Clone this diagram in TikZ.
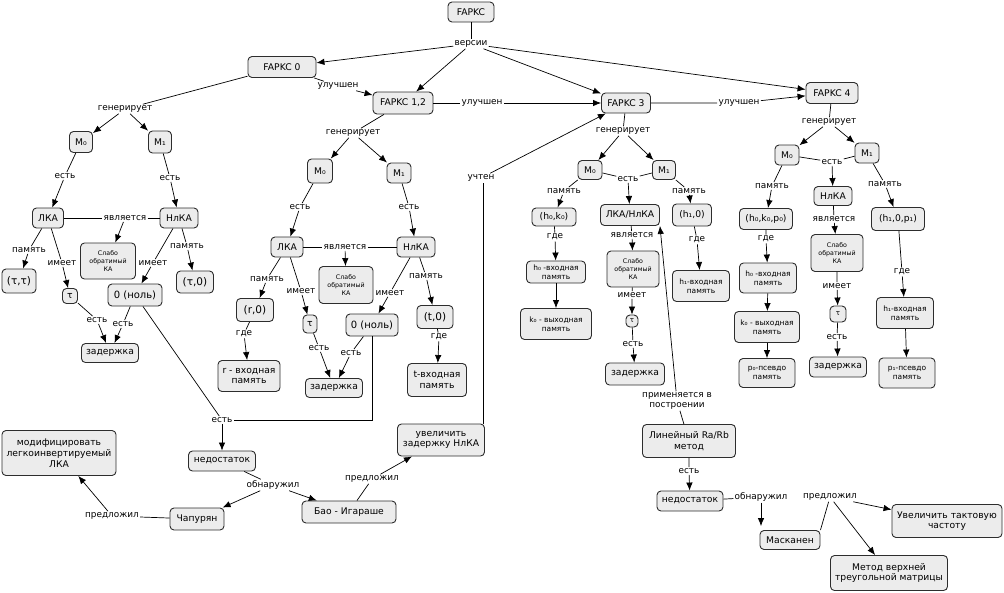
\documentclass[tikz,border=0pt]{standalone}
\usepackage{fontspec}
\setmainfont{DejaVu Sans}
\usetikzlibrary{arrows.meta}
\definecolor{boxgray}{RGB}{236,236,236}
\definecolor{boxline}{RGB}{45,45,45}

\begin{document}
\begin{tikzpicture}[x=1pt,y=-1pt,
  >={Latex[length=8pt,width=6.5pt]},
  line width=0.7pt,
  box/.style={draw=boxline,fill=boxgray,rounded corners=4pt,line width=0.9pt,
    align=center,inner sep=1pt,font=\fontsize{9.2}{10.7}\selectfont},
  tuplebox/.style={box,font=\fontsize{10.5}{12}\selectfont},
  midbox/.style={box,font=\fontsize{7.5}{9.5}\selectfont},
  tinybox/.style={box,font=\fontsize{6.3}{8}\selectfont},
  wh/.style 2 args={minimum width=#1pt,minimum height=#2pt},
  lbl/.style={inner sep=1pt,align=center,font=\fontsize{8.9}{10}\selectfont}]
  \useasboundingbox (0,0) rectangle (1004,592);

  % versions
  \node[box,wh={46}{20}] (f) at (471,12) {FAPKC};
  \node[box,wh={68}{21}] (f0) at (282,67) {FAPKC 0};
  \node[box,wh={60}{22}] (f12) at (403,103) {FAPKC 1,2};
  \node[box,wh={49}{20}] (f3) at (626,103) {FAPKC 3};
  \node[box,wh={52}{21}] (f4) at (832,93) {FAPKC 4};
  \node[lbl] (versii) at (471,44) {версии};
  \node[lbl] (ul1) at (338,86) {улучшен};
  \node[lbl] (ul2) at (482,103) {улучшен};
  \node[lbl] (ul3) at (739,103) {улучшен};
  \draw (f) -- (versii);
  \draw[->] (versii) -- (f0);
  \draw[->] (versii) -- (f12);
  \draw[->] (versii) -- (f3);
  \draw[->] (versii) -- (f4);
  \draw[->] (f0) -- (ul1) -- (f12);
  \draw[->] (f12) -- (ul2) -- (f3);
  \draw[->] (f3) -- (ul3) -- (f4);

  % FAPKC 0
  \node[lbl] (genA) at (125,109) {генерирует};
  \node[box,wh={23}{21}] (aM0) at (81,142) {M₀};
  \node[box,wh={23}{22}] (aM1) at (160,142) {M₁};
  \node[lbl] (aest0) at (65,176) {есть};
  \node[lbl] (aest1) at (170,178) {есть};
  \node[box,wh={31}{20}] (aL) at (48,218) {ЛКА};
  \node[box,wh={38}{20}] (aN) at (179,218) {НлКА};
  \node[lbl] (ajav) at (125,218) {является};
  \node[tinybox,wh={55}{36}] (aS) at (108,261) {Слабо\\обратимый\\КА};
  \node[lbl] (apam0) at (29,250) {память};
  \node[lbl] (aim0) at (62,263) {имеет};
  \node[lbl] (apam1) at (187,246) {память};
  \node[lbl] (aim1) at (153,263) {имеет};
  \node[tuplebox,wh={34}{24}] (aTT) at (19,281) {(τ,τ)};
  \node[box,wh={15}{15}] (aTau) at (70,296) {τ};
  \node[tuplebox,wh={37}{22}] (aT0) at (195,282) {(τ,0)};
  \node[box,wh={54}{22},font=\fontsize{10}{12}\selectfont] (aZero) at (135,295) {0 (ноль)};
  \node[lbl] (aest2) at (97,320) {есть};
  \node[lbl] (aest3) at (123,324) {есть};
  \node[box,wh={57}{19}] (aZad) at (110,353) {задержка};
  \draw[->] (f0) -- (genA) -- (aM0);
  \draw[->] (genA) -- (aM1);
  \draw[->] (aM0) -- (aest0) -- (aL);
  \draw[->] (aM1) -- (aest1) -- (aN);
  \draw (aL) -- (ajav) -- (aN);
  \draw[->] (ajav) -- (aS);
  \draw[->] (aL) -- (apam0) -- (aTT);
  \draw[->] (aL) -- (aim0) -- (aTau);
  \draw[->] (aN) -- (apam1) -- (aT0);
  \draw[->] (aN) -- (aim1) -- (aZero);
  \draw[->] (aTau) -- (aest2) -- (aZad);
  \draw[->] (aZero) -- (aest3) -- (aZad);

  % FAPKC 1,2
  \node[lbl] (genB) at (353,133) {генерирует};
  \node[box,wh={25}{24}] (bM0) at (320,171) {M₀};
  \node[box,wh={24}{20}] (bM1) at (399,173) {M₁};
  \node[lbl] (best0) at (300,207) {есть};
  \node[lbl] (best1) at (409,207) {есть};
  \node[box,wh={32}{20}] (bL) at (287,247) {ЛКА};
  \node[box,wh={38}{20}] (bN) at (416,247) {НлКА};
  \node[lbl] (bjav) at (345,247) {является};
  \node[tinybox,wh={54}{37}] (bS) at (346,285) {Слабо\\обратимый\\КА};
  \node[lbl] (bpam0) at (267,279) {память};
  \node[lbl] (bim0) at (301,291) {имеет};
  \node[lbl] (bim1) at (390,293) {имеет};
  \node[lbl] (bpam1) at (426,276) {память};
  \node[tuplebox,wh={37}{23}] (bR0) at (255,310) {(r,0)};
  \node[lbl] (bgde0) at (244,334) {где};
  \node[box,wh={62}{31}] (bRin) at (249,376) {r - входная\\память};
  \node[box,wh={14}{18}] (bTau) at (310,324) {τ};
  \node[lbl] (best2) at (319,348) {есть};
  \node[box,wh={52}{22},font=\fontsize{10}{12}\selectfont] (bZero) at (372,325) {0 (ноль)};
  \node[lbl] (best3) at (351,353) {есть};
  \node[box,wh={57}{19}] (bZad) at (334,388) {задержка};
  \node[tuplebox,wh={36}{23}] (bT0) at (435,317) {(t,0)};
  \node[lbl] (bgde1) at (439,337) {где};
  \node[box,wh={59}{33}] (bTin) at (437,380) {t-входная\\память};
  \draw[->] (f12) -- (genB) -- (bM0);
  \draw[->] (genB) -- (bM1);
  \draw[->] (bM0) -- (best0) -- (bL);
  \draw[->] (bM1) -- (best1) -- (bN);
  \draw (bL) -- (bjav) -- (bN);
  \draw[->] (bjav) -- (bS);
  \draw[->] (bL) -- (bpam0) -- (bR0);
  \draw[->] (bR0) -- (bgde0) -- (bRin);
  \draw[->] (bL) -- (bim0) -- (bTau);
  \draw[->] (bTau) -- (best2) -- (bZad);
  \draw[->] (bN) -- (bim1) -- (bZero);
  \draw[->] (bZero) -- (best3) -- (bZad);
  \draw[->] (bN) -- (bpam1) -- (bT0);
  \draw[->] (bT0) -- (bgde1) -- (bTin);

  % FAPKC 3
  \node[lbl] (genC) at (623,131) {генерирует};
  \node[box,wh={24}{19}] (cM0) at (590,170) {M₀};
  \node[box,wh={23}{19}] (cM1) at (664,170) {M₁};
  \node[lbl] (cest) at (628,179) {есть};
  \node[box,wh={59}{21}] (cLN) at (630,215) {ЛКА/НлКА};
  \node[lbl] (cpam0) at (564,191) {память};
  \node[box,wh={44}{18}] (cHK) at (554,217) {(h₀,k₀)};
  \node[lbl] (cgde0) at (555,237) {где};
  \node[midbox,wh={59}{22}] (cHin) at (556,272) {h₀ -входная\\память};
  \node[midbox,wh={71}{31}] (cKout) at (556,324) {k₀ - выходная\\память};
  \node[lbl] (cjav) at (632,235) {является};
  \node[tinybox,wh={52}{36}] (cS) at (633,269) {Слабо\\обратимый\\КА};
  \node[lbl] (cim) at (632,295) {имеет};
  \node[box,wh={12}{12},font=\fontsize{7}{8}\selectfont] (cTau) at (632,321) {τ};
  \node[lbl] (cest2) at (633,344) {есть};
  \node[box,wh={59}{22}] (cZad) at (635,374) {задержка};
  \node[lbl] (cpam1) at (689,191) {память};
  \node[box,wh={39}{22}] (cH0) at (692,215) {(h₁,0)};
  \node[lbl] (cgde1) at (697,240) {где};
  \node[midbox,wh={57}{31}] (cH1in) at (701,286) {h₁-входная\\память};
  \draw[->] (f3) -- (genC) -- (cM0);
  \draw[->] (genC) -- (cM1);
  \draw (cM0) -- (cest) -- (cM1);
  \draw[->] (cest) -- (cLN);
  \draw[->] (cM0) -- (cpam0) -- (cHK);
  \draw[->] (cHK) -- (cgde0) -- (cHin);
  \draw[->] (cHin) -- (cKout);
  \draw[->] (cLN) -- (cjav) -- (cS);
  \draw[->] (cS) -- (cim) -- (cTau);
  \draw[->] (cTau) -- (cest2) -- (cZad);
  \draw[->] (cM1) -- (cpam1) -- (cH0);
  \draw[->] (cH0) -- (cgde1) -- (cH1in);

  % FAPKC 4
  \node[lbl] (genD) at (829,122) {генерирует};
  \node[box,wh={24}{20}] (dM0) at (787,155) {M₀};
  \node[box,wh={24}{20}] (dM1) at (867,153) {M₁};
  \node[lbl] (dest) at (832,162) {есть};
  \node[box,wh={38}{19}] (dN) at (833,196) {НлКА};
  \node[lbl] (djav) at (834,219) {является};
  \node[tinybox,wh={52}{37}] (dS) at (837,253) {Слабо\\обратимый\\КА};
  \node[lbl] (dim) at (837,286) {имеет};
  \node[box,wh={16}{16},font=\fontsize{7}{8}\selectfont] (dTau) at (838,314) {τ};
  \node[lbl] (dest2) at (837,337) {есть};
  \node[box,wh={57}{20}] (dZad) at (838,367) {задержка};
  \node[lbl] (dpam0) at (772,186) {память};
  \node[box,wh={53}{21}] (dHKP) at (766,219) {(h₀,k₀,p₀)};
  \node[lbl] (dgde0) at (766,239) {где};
  \node[midbox,wh={57}{30}] (dHin) at (768,278) {h₀ -входная\\память};
  \node[midbox,wh={65}{31}] (dKout) at (767,327) {k₀ - выходная\\память};
  \node[midbox,wh={56}{29}] (dPps) at (767,373) {p₀-псевдо\\память};
  \node[lbl] (dpam1) at (885,184) {память};
  \node[box,wh={53}{23}] (dH0P) at (898,219) {(h₁,0,p₁)};
  \node[lbl] (dgde1) at (902,272) {где};
  \node[midbox,wh={57}{31}] (dH1in) at (905,313) {h₁-входная\\память};
  \node[midbox,wh={56}{30}] (dP1ps) at (907,373) {p₁-псевдо\\память};
  \draw[->] (f4) -- (genD) -- (dM0);
  \draw[->] (genD) -- (dM1);
  \draw (dM0) -- (dest) -- (dM1);
  \draw[->] (dest) -- (dN);
  \draw[->] (dN) -- (djav) -- (dS);
  \draw[->] (dS) -- (dim) -- (dTau);
  \draw[->] (dTau) -- (dest2) -- (dZad);
  \draw[->] (dM0) -- (dpam0) -- (dHKP);
  \draw[->] (dHKP) -- (dgde0) -- (dHin);
  \draw[->] (dHin) -- (dKout);
  \draw[->] (dKout) -- (dPps);
  \draw[->] (dM1) -- (dpam1) -- (dH0P);
  \draw[->] (dH0P) -- (dgde1) -- (dH1in);
  \draw[->] (dH1in) -- (dP1ps);

  % drawbacks and proposals
  \node[lbl] (est) at (222,420) {есть};
  \node[box,wh={67}{20}] (ned) at (222,461) {недостаток};
  \node[lbl] (obn1) at (273,485) {обнаружил};
  \node[box,wh={54}{22}] (chap) at (197,519) {Чапурян};
  \node[box,wh={94}{22}] (bao) at (349,512) {Бао - Игараше};
  \node[lbl] (pr1) at (112,516) {предложил};
  \node[box,wh={114}{45}] (mod) at (59,453) {модифицировать\\легкоинвертируемый\\ЛКА};
  \node[lbl] (pr2) at (372,479) {предложил};
  \node[box,wh={87}{32}] (uvz) at (441,440) {увеличить\\задержку НлКА};
  \node[lbl] (uchten) at (481,178) {учтен};
  \draw (aZero) -- (est);
  \draw (bZero) |- (est);
  \draw[->] (est) -- (ned);
  \draw[->] (ned) -- (obn1) -- (chap);
  \draw[->] (obn1) -- (bao);
  \draw[->] (chap) -- (pr1) -- (mod);
  \draw[->] (bao) -- (pr2) -- (uvz);
  \draw ([xshift=-2pt]uvz.north east) -- ([xshift=-2pt]uvz.north east |- uchten.south);
  \draw[->] (uchten) -- (f3);

  \node[box,wh={93}{33}] (lin) at (689,441) {Линейный Ra/Rb\\метод};
  \node[lbl] (prim) at (677,401) {применяется в\\построении};
  \node[lbl] (lest) at (689,471) {есть};
  \node[box,wh={66}{20}] (ned2) at (690,501) {недостаток};
  \node[lbl] (obn2) at (761,497) {обнаружил};
  \node[box,wh={60}{19}] (mask) at (790,540) {Масканен};
  \node[lbl] (pr3) at (830,497) {предложил};
  \node[box,wh={110}{33}] (uvt) at (947,521) {Увеличить тактовую\\частоту};
  \node[box,wh={117}{35}] (met) at (889,573) {Метод верхней\\треугольной матрицы};
  \draw[->] (lin) -- (prim) -- (cLN.south east);
  \draw[->] (lin) -- (lest) -- (ned2);
  \draw (ned2) -- (obn2);
  \draw[->] (obn2) -- ([yshift=4pt]obn2 |- mask.north);
  \draw (mask.north east) -- (pr3);
  \draw[->] (pr3) -- (uvt);
  \draw[->] (pr3) -- (met);
\end{tikzpicture}
\end{document}
